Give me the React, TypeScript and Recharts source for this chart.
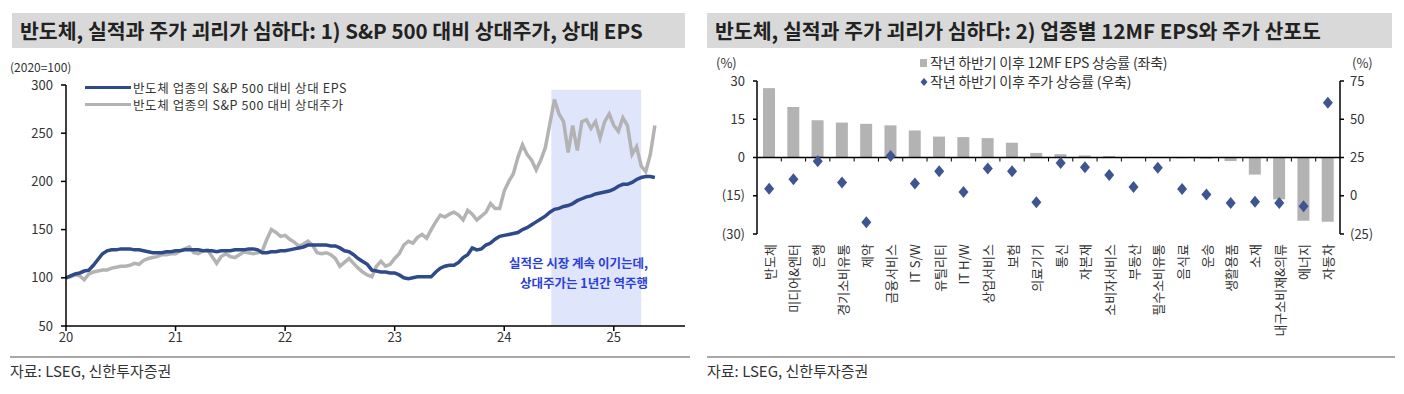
import {
  ComposedChart,
  LineChart,
  Line,
  Bar,
  Scatter,
  XAxis,
  YAxis,
  ReferenceArea,
  ReferenceLine,
} from "recharts";

const FONT = '"Noto Sans CJK KR", "Noto Sans", sans-serif';

// 1) 반도체 업종의 S&P 500 대비 상대 지표, 반월 간격 (2020.01 ~ 2025.05)
const relEps = [
  100, 102, 104, 105, 107, 108, 113, 119, 125, 128, 129, 129, 130, 130, 130, 129, 129, 128, 127, 126, 126, 126, 127, 127,
  128, 128, 129, 129, 129, 129, 128, 128, 128, 127, 128, 128, 128, 129, 129, 129, 130, 130, 129, 126, 126, 127, 127, 128,
  128, 129, 130, 131, 132, 134, 134, 134, 134, 134, 133, 133, 131, 128, 127, 124, 120, 117, 114, 108, 107, 106, 106, 105,
  105, 103, 100, 99, 100, 101, 101, 101, 101, 106, 110, 112, 113, 113, 116, 121, 124, 131, 129, 130, 134, 136, 140, 143,
  144, 145, 146, 147, 150, 152, 155, 158, 161, 164, 168, 171, 172, 174, 175, 177, 180, 182, 184, 185, 187, 188, 189, 190,
  192, 195, 197, 197, 199, 202, 204, 205, 205, 204,
];
const relPrice = [
  100, 101, 103, 102, 98, 104, 106, 107, 108, 108, 110, 111, 112, 112, 113, 115, 114, 118, 120, 121, 122, 124, 124, 125,
  125, 128, 130, 132, 126, 125, 128, 129, 122, 115, 122, 125, 122, 121, 124, 127, 126, 125, 126, 128, 140, 150, 147, 143,
  144, 140, 137, 133, 135, 138, 134, 126, 125, 126, 124, 120, 112, 116, 120, 115, 110, 106, 103, 101, 112, 117, 112, 114,
  120, 125, 134, 138, 136, 142, 145, 141, 150, 158, 165, 163, 166, 168, 165, 160, 170, 166, 160, 164, 168, 177, 172, 172,
  190, 200, 208, 225, 238, 228, 222, 212, 222, 235, 260, 285, 270, 262, 230, 258, 232, 262, 264, 255, 262, 245, 262, 270,
  258, 252, 266, 258, 228, 236, 216, 210, 228, 258,
];
const yearTicks = [2020, 2021, 2022, 2023, 2024, 2025];
const indexTicks = [50, 100, 150, 200, 250, 300];

// 2) 업종별 작년 하반기 이후 상승률 (%)
const sectors = [
  "반도체", "미디어&엔터", "은행", "경기소비유통", "제약", "금융서비스", "IT S/W", "유틸리티",
  "IT H/W", "상업서비스", "보험", "의료기기", "통신", "자본재", "소비자서비스", "부동산",
  "필수소비유통", "음식료", "운송", "생활용품", "소재", "내구소비재&의류", "에너지", "자동차",
];
const epsGrowth = [
  27.2, 19.8, 14.6, 13.7, 13.2, 12.6, 10.6, 8.2, 8.0, 7.6, 5.8, 1.8,
  1.3, 0.8, 0.6, 0.2, -0.2, -0.3, -0.5, -1.4, -6.7, -16.4, -24.8, -25.2,
];
const priceGrowth = [
  4.5, 10.8, 22.5, 8.7, -17.3, 26, 8, 16, 2.5, 17.8, 16, -4.2,
  21.4, 18.6, 13.6, 5.7, 18.3, 4.4, 0.8, -4.8, -4, -4.8, -6.8, 60.8,
];
const epsTicks = [-30, -15, 0, 15, 30];
const priceTicks = [-25, 0, 25, 50, 75];

const NAVY = "#2f4a8a";
const GREY = "#b3b3b3";
const DIAMOND = "#3e5591";
const TXT = "#333";

const lineData = relEps.map((v, i) => ({ t: 2020 + i / 24, eps: v, price: relPrice[i] }));
const sectorData = sectors.map((s, i) => ({ name: s, eps: epsGrowth[i], price: priceGrowth[i] }));

const paren = (v: number) => (v < 0 ? `(${-v})` : `${v}`);

function Diamond(props: any) {
  const { cx, cy } = props;
  if (cx == null || cy == null) return null;
  return <polygon points={`${cx},${cy - 6} ${cx + 5},${cy} ${cx},${cy + 6} ${cx - 5},${cy}`} fill={DIAMOND} />;
}

// zero line with small category-boundary ticks
function ZeroAxis(props: any) {
  const { x1, x2, y1 } = props;
  if (x1 == null || x2 == null) return null;
  const step = (x2 - x1) / sectors.length;
  return (
    <g>
      <line x1={x1} x2={x2} y1={y1} y2={y1} stroke="#000" strokeWidth={1.5} />
      {sectors.slice(1).map((_, i) => (
        <line key={i} x1={x1 + step * (i + 1)} x2={x1 + step * (i + 1)} y1={y1} y2={y1 + 4} stroke="#000" strokeWidth={1} />
      ))}
    </g>
  );
}

function SectorTick(props: any) {
  const { x, y, payload } = props;
  return (
    <text
      x={x}
      y={y}
      transform={`rotate(-90, ${x}, ${y})`}
      textAnchor="end"
      dominantBaseline="central"
      fontSize={13}
      fill={TXT}
      fontFamily={FONT}
    >
      {payload.value}
    </text>
  );
}

const header = (left: number, width: number, text: string) => (
  <div
    style={{
      position: "absolute",
      left,
      top: 13,
      width,
      height: 35,
      background: "#d9d9d9",
      fontSize: 20.5,
      fontWeight: 700,
      lineHeight: "35px",
      paddingLeft: 8,
      boxSizing: "border-box",
      color: "#222",
      whiteSpace: "nowrap",
    }}
  >
    {text}
  </div>
);

const footer = (left: number, width: number) => (
  <>
    <div style={{ position: "absolute", left, top: 356, width, borderTop: "2px solid #a8a8a8" }} />
    <div style={{ position: "absolute", left, top: 360, fontSize: 15, color: TXT }}>자료: LSEG, 신한투자증권</div>
  </>
);

const abs = (left: number, top: number, extra: any = {}) => ({ position: "absolute" as const, left, top, ...extra });

export default function App() {
  return (
    <div
      style={{
        position: "absolute",
        left: 0,
        top: 0,
        width: 1404,
        height: 394,
        background: "#fff",
        fontFamily: FONT,
        color: TXT,
        overflow: "hidden",
      }}
    >
      {header(12, 673, "반도체, 실적과 주가 괴리가 심하다: 1) S&P 500 대비 상대주가, 상대 EPS")}
      <div style={abs(10, 58, { fontSize: 12 })}>(2020=100)</div>

      <div style={abs(0, 0)}>
        <LineChart width={700} height={394} data={lineData} margin={{ top: 85, right: 15, bottom: 38, left: 0 }}>
          <ReferenceArea x1={2024.43} x2={2025.25} y1={50} y2={295} fill="#dfe5fb" fillOpacity={1} stroke="none" />
          <XAxis
            dataKey="t"
            type="number"
            domain={[2020, 2025.65]}
            ticks={yearTicks}
            tickFormatter={(v) => String(v - 2000)}
            stroke="#000"
            strokeWidth={1.5}
            tickSize={5}
            tick={{ fill: TXT, fontSize: 13 }}
            height={30}
          />
          <YAxis
            domain={[50, 300]}
            ticks={indexTicks}
            stroke="#000"
            strokeWidth={1.5}
            tickSize={5}
            tickMargin={8}
            tick={{ fill: TXT, fontSize: 13 }}
            width={66}
          />
          <Line dataKey="price" stroke={GREY} strokeWidth={3.5} dot={false} isAnimationActive={false} />
          <Line dataKey="eps" stroke={NAVY} strokeWidth={3.5} dot={false} isAnimationActive={false} />
        </LineChart>
      </div>

      <div style={abs(85, 79, { fontSize: 12.5, lineHeight: "17px", letterSpacing: 0.6 })}>
        <div style={{ display: "flex", alignItems: "center" }}>
          <span style={{ width: 46, height: 3, background: NAVY, display: "inline-block", marginRight: 2 }} />
          반도체 업종의 S&P 500 대비 상대 EPS
        </div>
        <div style={{ display: "flex", alignItems: "center" }}>
          <span style={{ width: 46, height: 3, background: GREY, display: "inline-block", marginRight: 2 }} />
          반도체 업종의 S&P 500 대비 상대주가
        </div>
      </div>

      <div
        style={abs(440, 253, {
          width: 208,
          textAlign: "right",
          fontSize: 12.5,
          fontWeight: 700,
          lineHeight: "20px",
          color: "#2b3fd6",
        })}
      >
        실적은 시장 계속 이기는데,
        <br />
        상대주가는 1년간 역주행
      </div>
      {footer(10, 680)}

      {header(707, 685, "반도체, 실적과 주가 괴리가 심하다: 2) 업종별 12MF EPS와 주가 산포도")}
      <div style={abs(716, 53, { fontSize: 13 })}>(%)</div>
      <div style={abs(1352, 53, { fontSize: 13 })}>(%)</div>

      <div style={abs(700, 0)}>
        <ComposedChart
          width={704}
          height={394}
          data={sectorData}
          barCategoryGap="50%"
          margin={{ top: 81, right: 14, bottom: 30, left: 0 }}
        >
          <XAxis
            dataKey="name"
            axisLine={false}
            tickLine={false}
            tickSize={6}
            tickMargin={4}
            interval={0}
            tick={<SectorTick />}
            height={130}
          />
          <YAxis
            yAxisId="left"
            domain={[-30, 30]}
            ticks={epsTicks}
            tickFormatter={paren}
            stroke="#000"
            strokeWidth={1.5}
            tickSize={4}
            tickMargin={8}
            tick={{ fill: TXT, fontSize: 13 }}
            width={57}
          />
          <YAxis
            yAxisId="right"
            orientation="right"
            domain={[-25, 75]}
            ticks={priceTicks}
            tickFormatter={paren}
            stroke="#000"
            strokeWidth={1.5}
            tickSize={4}
            tickMargin={6}
            tick={{ fill: TXT, fontSize: 13 }}
            width={50}
          />
          <Bar yAxisId="left" dataKey="eps" fill={GREY} barSize={12} isAnimationActive={false} />
          <ReferenceLine yAxisId="left" y={0} shape={<ZeroAxis />} />
          <Scatter yAxisId="right" dataKey="price" shape={<Diamond />} isAnimationActive={false} />
        </ComposedChart>
      </div>

      <div style={abs(920, 53, { fontSize: 14, lineHeight: "19px", letterSpacing: -0.2 })}>
        <div style={{ display: "flex", alignItems: "center" }}>
          <span style={{ width: 7, height: 8, background: GREY, display: "inline-block", marginRight: 3 }} />
          작년 하반기 이후 12MF EPS 상승률 (좌축)
        </div>
        <div style={{ display: "flex", alignItems: "center" }}>
          <svg width={8} height={10} style={{ marginRight: 2 }}>
            <polygon points="4,1 7.5,5 4,9 0.5,5" fill={DIAMOND} />
          </svg>
          작년 하반기 이후 주가 상승률 (우축)
        </div>
      </div>
      {footer(707, 688)}
    </div>
  );
}
